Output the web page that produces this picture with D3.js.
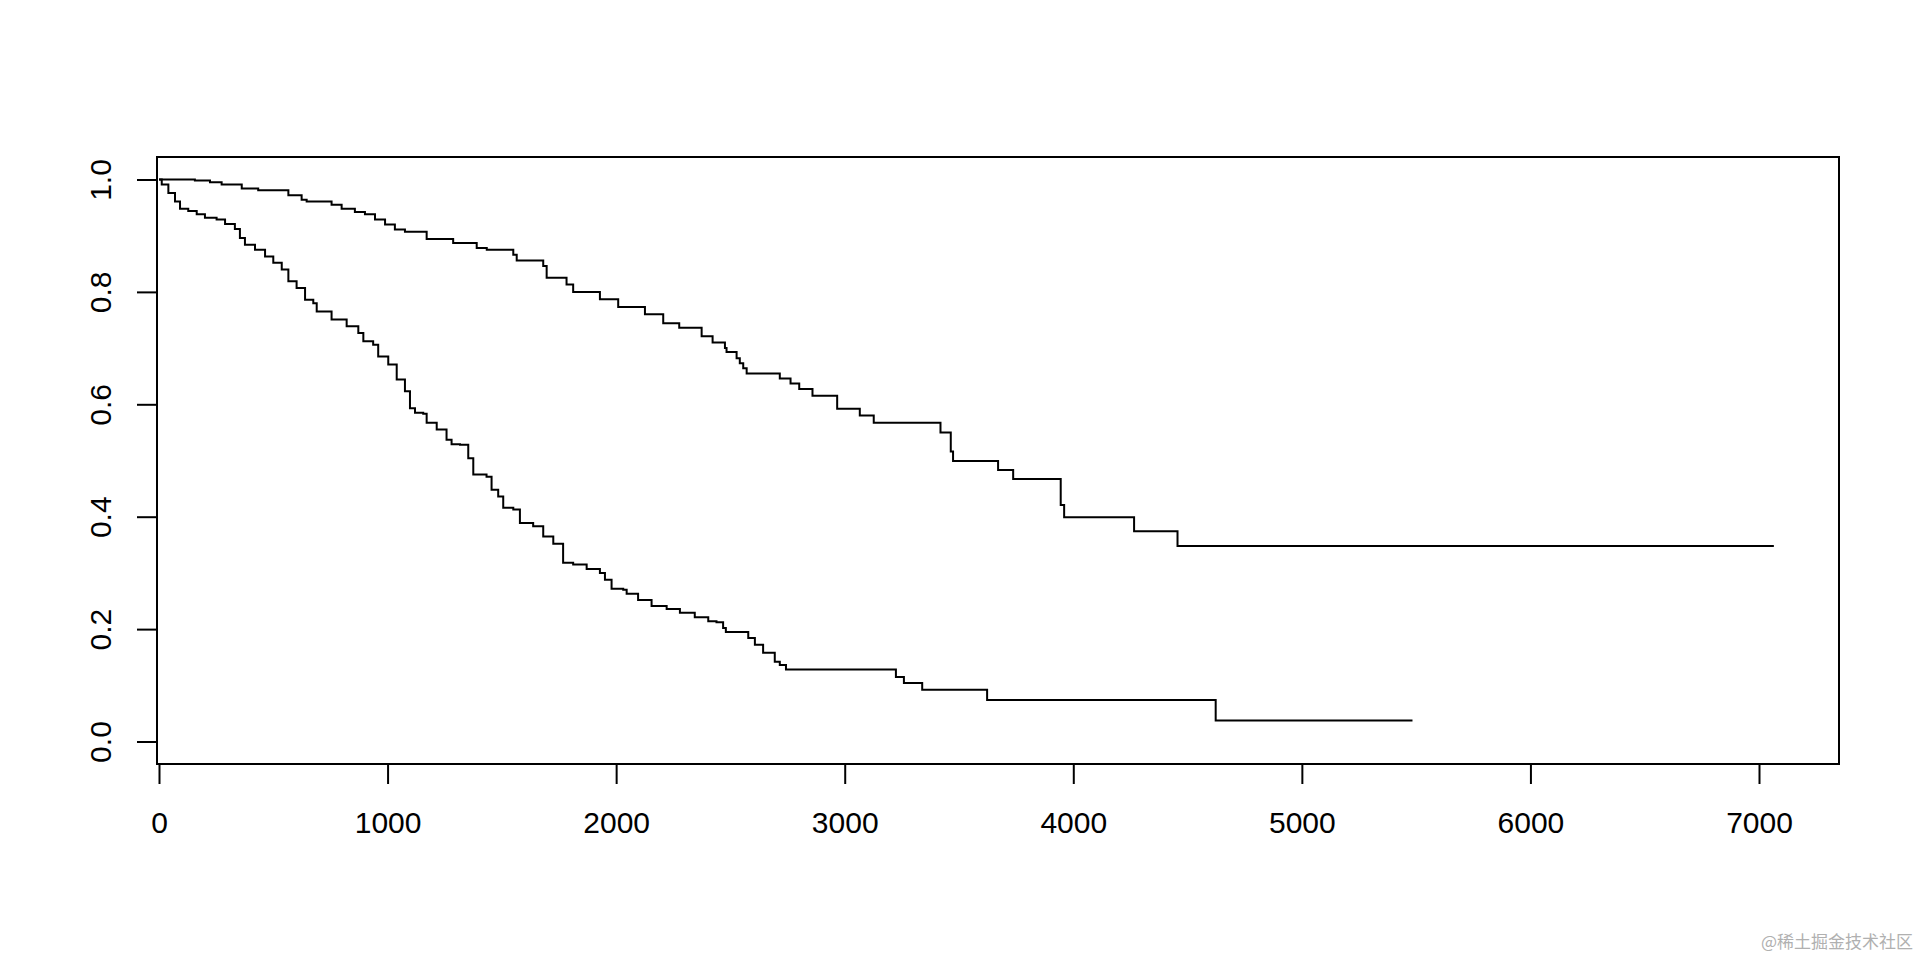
<!DOCTYPE html>
<html>
<head>
<meta charset="utf-8">
<script src="https://cdn.jsdelivr.net/npm/d3@7"></script>
<style>
	body { margin: 0; background: #fff; }
	svg { display: block; }
</style>
</head>
<body>
<div class="km"></div>
<script>
///////////////////////////////////////////////////////////////////////////
/////////////////////////////// Data //////////////////////////////////////
///////////////////////////////////////////////////////////////////////////

//Upper survival curve - event times and survival after each event
var upperTimes = [0, 157, 223, 274, 362, 434, 566, 624, 646, 755, 799, 857, 901, 945, 989,
	1032, 1076, 1171, 1287, 1390, 1434, 1550, 1565, 1681, 1696, 1783, 1812, 1929, 2009, 2126,
	2206, 2276, 2374, 2422, 2476, 2483, 2527, 2541, 2556, 2571, 2716, 2763, 2801, 2859, 2967,
	3066, 3127, 3419, 3464, 3474, 3671, 3737, 3945, 3960, 4266, 4456, 7065];
var upperSurv = [1, 0.998, 0.995, 0.991, 0.984, 0.981, 0.972, 0.964, 0.961, 0.955, 0.948, 0.942, 0.938, 0.929, 0.920,
	0.911, 0.907, 0.894, 0.887, 0.878, 0.875, 0.866, 0.856, 0.846, 0.825, 0.813, 0.800, 0.787, 0.773, 0.760,
	0.744, 0.736, 0.721, 0.710, 0.700, 0.693, 0.682, 0.673, 0.664, 0.655, 0.646, 0.637, 0.627, 0.615, 0.592,
	0.580, 0.567, 0.550, 0.516, 0.499, 0.483, 0.467, 0.421, 0.399, 0.374, 0.348, 0.348];

//Lower survival curve
var lowerTimes = [0, 12, 41, 70, 92, 128, 165, 201, 252, 289, 332, 354, 376, 420, 464,
	500, 537, 566, 602, 639, 675, 690, 755, 821, 872, 894, 937, 959, 1003, 1040,
	1076, 1098, 1120, 1156, 1171, 1215, 1258, 1280, 1317, 1353, 1375, 1433, 1455, 1484, 1506,
	1550, 1579, 1637, 1681, 1725, 1768, 1812, 1871, 1929, 1951, 1980, 2031, 2046, 2096, 2155,
	2221, 2279, 2344, 2403, 2439, 2468, 2480, 2578, 2607, 2643, 2694, 2716, 2743, 3224, 3259,
	3339, 3623, 4623, 5484];
var lowerSurv = [1, 0.991, 0.976, 0.961, 0.948, 0.944, 0.938, 0.932, 0.929, 0.921, 0.912, 0.896, 0.884, 0.875, 0.863,
	0.852, 0.840, 0.819, 0.807, 0.786, 0.780, 0.765, 0.751, 0.739, 0.727, 0.712, 0.706, 0.685, 0.671, 0.644,
	0.623, 0.593, 0.585, 0.583, 0.567, 0.555, 0.537, 0.529, 0.528, 0.504, 0.475, 0.471, 0.448, 0.436, 0.416,
	0.413, 0.389, 0.383, 0.365, 0.352, 0.318, 0.315, 0.307, 0.300, 0.288, 0.272, 0.270, 0.263, 0.252, 0.241,
	0.236, 0.229, 0.221, 0.214, 0.212, 0.202, 0.195, 0.184, 0.172, 0.158, 0.142, 0.136, 0.128, 0.115, 0.104,
	0.092, 0.074, 0.0376, 0.0376];

var xTicks = [0, 1000, 2000, 3000, 4000, 5000, 6000, 7000];
var yTicks = [0, 0.2, 0.4, 0.6, 0.8, 1.0];
var xDomain = [0, 7350];
var yDomain = [-0.04, 1.04];

///////////////////////////////////////////////////////////////////////////
////////////////////////////// Set-up /////////////////////////////////////
///////////////////////////////////////////////////////////////////////////

var width = 1920,
	height = 960,
	box = {left: 157, right: 1839, top: 157, bottom: 764},
	fontFamily = "'Liberation Sans', Arial, Helvetica, sans-serif";

var svg = d3.select(".km").append("svg")
	.attr("width", width)
	.attr("height", height);

var x = d3.scaleLinear().domain(xDomain).range([box.left + 2, box.right]);
var y = d3.scaleLinear().domain(yDomain).range([box.bottom, box.top]);

///////////////////////////////////////////////////////////////////////////
////////////////////////////// Axes ///////////////////////////////////////
///////////////////////////////////////////////////////////////////////////

var xAxis = svg.append("g")
	.attr("class", "x axis")
	.attr("transform", "translate(0," + box.bottom + ")")
	.call(d3.axisBottom(x).tickValues(xTicks).tickSize(20).tickPadding(28).tickFormat(d3.format("d")));

var yAxis = svg.append("g")
	.attr("class", "y axis")
	.attr("transform", "translate(" + box.left + ",0)")
	.call(d3.axisLeft(y).tickValues(yTicks).tickSize(20).tickFormat(d3.format(".1f")));

svg.selectAll(".axis .domain").remove();
svg.selectAll(".axis line")
	.style("stroke", "#000")
	.style("stroke-width", 2);
svg.selectAll(".axis text")
	.style("font-family", fontFamily)
	.style("font-size", "30px")
	.attr("fill", "#000");

//R style: y labels turned to read bottom-to-top
yAxis.selectAll("text")
	.attr("transform", "rotate(-90)")
	.attr("x", 0)
	.attr("y", -46)
	.attr("dy", 0)
	.style("text-anchor", "middle");

//The box round the plot
svg.append("rect")
	.attr("x", box.left)
	.attr("y", box.top)
	.attr("width", box.right - box.left)
	.attr("height", box.bottom - box.top)
	.style("fill", "none")
	.style("stroke", "#000")
	.style("stroke-width", 2);

///////////////////////////////////////////////////////////////////////////
////////////////////////////// Curves /////////////////////////////////////
///////////////////////////////////////////////////////////////////////////

var line = d3.line()
	.x(function(d) { return x(d[0]); })
	.y(function(d) { return y(d[1]); })
	.curve(d3.curveStepAfter);

[d3.zip(upperTimes, upperSurv), d3.zip(lowerTimes, lowerSurv)].forEach(function(curve) {
	svg.append("path")
		.datum(curve)
		.attr("d", line)
		.style("fill", "none")
		.style("stroke", "#000")
		.style("stroke-width", 2);
});

//Watermark bottom right
svg.append("text")
	.attr("x", 1913)
	.attr("y", 948)
	.style("text-anchor", "end")
	.style("font-family", "'Noto Sans CJK SC', sans-serif")
	.style("font-size", "17px")
	.attr("fill", "#b0b0b0")
	.text("@稀土掘金技术社区");
</script>
</body>
</html>
